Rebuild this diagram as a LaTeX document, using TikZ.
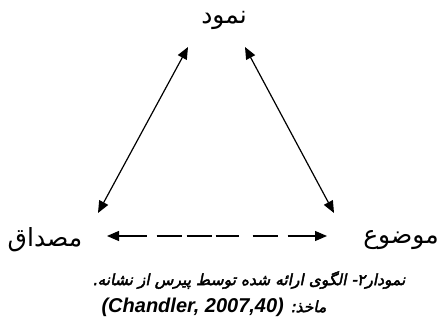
\documentclass[tikz,border=0pt]{standalone}
\usepackage{fontspec}
\usetikzlibrary{arrows.meta}
\TeXXeTstate=1
\newfontfamily\arabicfont[Script=Arabic]{DejaVu Sans}
\newfontfamily\captionfont[Script=Arabic,FakeBold=2.5,FakeSlant=0.2]{DejaVu Sans}
\newfontfamily\latinfont{Liberation Sans}

\begin{document}
\begin{tikzpicture}[x=1pt, y=1pt, inner sep=0pt,
        term/.style={font=\arabicfont\fontsize{25}{28}\selectfont},
        caption/.style={font=\captionfont\fontsize{15.5}{18}\selectfont},
        link/.style={line width=1.2pt, {Triangle[length=12pt,width=10pt]}-{Triangle[length=12pt,width=10pt]}}]
        \useasboundingbox (0,0) rectangle (438,322);
        \node (nomud) [term] at (224,302) {\beginR نمود\endR};
        \node (misdaq) [term] at (45,82) {\beginR مصداق\endR};
        \node (mowzu) [term] at (401,82) {\beginR موضوع\endR};
        \node (cap1) [caption] at (249,42) {\beginR نمودار۲- الگوی ارائه شده توسط پیرس از نشانه.\endR};
        \node (cap2) [caption] at (214,15) {\beginR ماخذ: \beginL{\latinfont\fontsize{20}{22}\selectfont\bfseries\itshape(Chandler, 2007,40)}\endL\endR};

        \coordinate (nomud-l) at (188,275);
        \coordinate (nomud-r) at (245,275);
        \coordinate (misdaq-t) at (98,109);
        \coordinate (misdaq-r) at (107,86);
        \coordinate (mowzu-t) at (334,109);
        \coordinate (mowzu-l) at (327,86);

        \draw[link] (misdaq-t) -- (nomud-l);
        \draw[link] (nomud-r) -- (mowzu-t);
        \draw[link, dash pattern=on 28pt off 10pt on 25pt off 5pt on 25pt off 4pt on 23pt off 14pt on 25pt off 10pt on 60pt off 0pt] (misdaq-r) -- (mowzu-l);
    \end{tikzpicture}
\end{document}
